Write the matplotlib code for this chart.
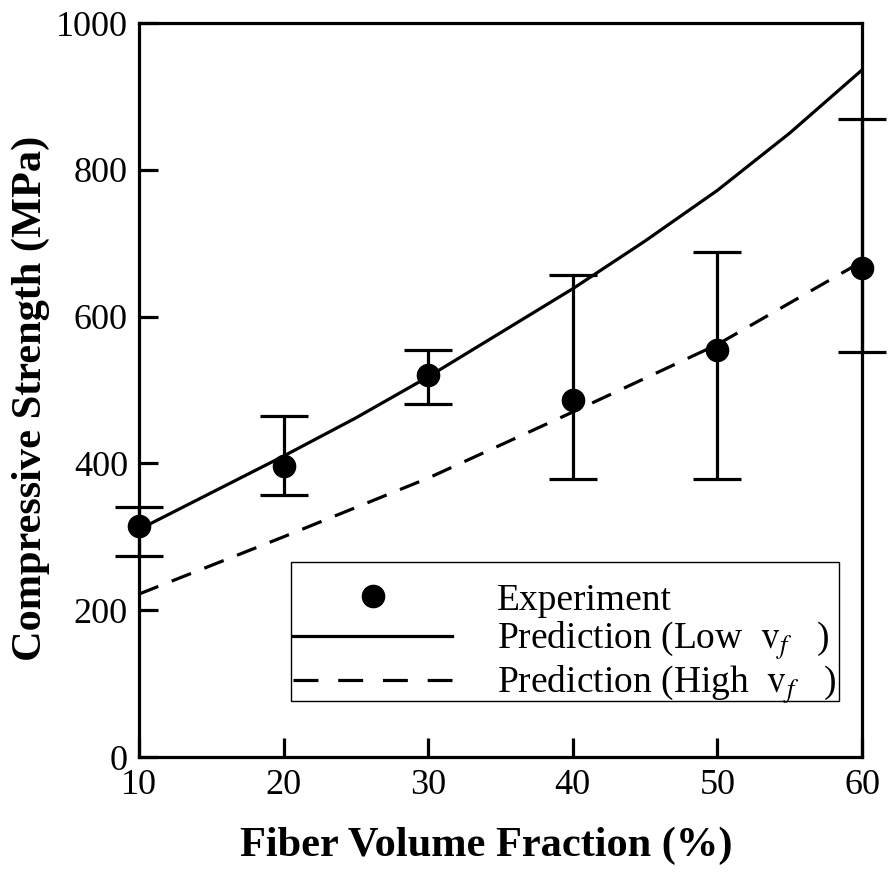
import matplotlib
matplotlib.use("Agg")
import matplotlib.pyplot as plt
from matplotlib.lines import Line2D
from matplotlib.patches import Rectangle
import numpy as np

plt.rcParams['font.family'] = ['Liberation Serif', 'DejaVu Serif']
plt.rcParams['mathtext.fontset'] = 'stix'

# Experimental data
exp_vf = [10, 20, 30, 40, 50, 60]
exp_strength = [315, 396, 520, 487, 555, 666]
exp_upper = [340, 465, 555, 656, 688, 869]
exp_lower = [274, 357, 481, 379, 379, 552]

# Prediction curves
pred_vf = [10, 15, 20, 25, 30, 35, 40, 45, 50, 55, 60]
pred_low = [310, 360, 410, 462, 518, 578, 638, 703, 772, 850, 936]
pred_high_vf = [10, 20, 30, 40, 50, 60]
pred_high = [222, 300, 380, 470, 562, 675]

x_ticks = [10, 20, 30, 40, 50, 60]
y_ticks = [0, 200, 400, 600, 800, 1000]

W, H = 889, 893
L, R, T, B = 139, 862, 23, 757

fig = plt.figure(figsize=(W / 100, H / 100), dpi=100)
ax = fig.add_axes([L / W, 1 - B / H, (R - L) / W, (B - T) / H])


def ax_xy(px, py):
    return ((px - L) / (R - L), (B - py) / (B - T))


lw = 2.3
yerr = [np.array(exp_strength) - np.array(exp_lower),
        np.array(exp_upper) - np.array(exp_strength)]

lab_low = r'Prediction (Low  $\mathrm{v}_{f}$   )'
lab_high = r'Prediction (High  $\mathrm{v}_{f}$   )'

ax.plot(pred_vf, pred_low, color='black', lw=lw, clip_on=False, zorder=3)
ax.plot(pred_high_vf, pred_high, color='black', lw=lw,
        linestyle=(0, (6.5, 4.5)), clip_on=False, zorder=3)
ax.errorbar(exp_vf, exp_strength, yerr=yerr, fmt='o', color='black', ms=16,
            elinewidth=lw, capsize=17, capthick=lw, clip_on=False, zorder=4)

ax.set_xlim(10, 60)
ax.set_ylim(0, 1000)
ax.set_xticks(x_ticks)
ax.set_yticks(y_ticks)
ax.tick_params(direction='in', length=14, width=lw, labelsize=26)
ax.tick_params(axis='x', pad=9)
ax.tick_params(axis='y', pad=8)
for s in ax.spines.values():
    s.set_linewidth(lw)

ax.set_xlabel('Fiber Volume Fraction (%)', fontsize=30.5, fontweight='bold')
ax.set_ylabel('Compressive Strength (MPa)', fontsize=30.5, fontweight='bold')
ax.xaxis.set_label_coords(0.48, -0.095)
ax.yaxis.set_label_coords(-0.123, 0.488)

# legend box
x0, y0 = ax_xy(291, 701)
x1, y1 = ax_xy(839, 562)
ax.add_patch(Rectangle((x0, y0), x1 - x0, y1 - y0, transform=ax.transAxes,
                       fill=True, facecolor='white', edgecolor='black',
                       lw=1.0, zorder=5))

exp_handle = Line2D([], [], marker='o', color='black', linestyle='none',
                    ms=16, markevery=None)
leg_low = Line2D([], [], color='black', lw=lw)
leg_high = Line2D([], [], color='black', lw=lw, linestyle=(0, (7.8, 6.2)))
leg = ax.legend([exp_handle, leg_low, leg_high],
                ['Experiment', lab_low, lab_high],
                loc='upper left', bbox_to_anchor=ax_xy(293, 583),
                fontsize=27, frameon=False,
                handlelength=4.25, handletextpad=1.2, labelspacing=0.05,
                borderpad=0, borderaxespad=0)
leg.set_zorder(6)

fig.savefig('out.png', dpi=100)
